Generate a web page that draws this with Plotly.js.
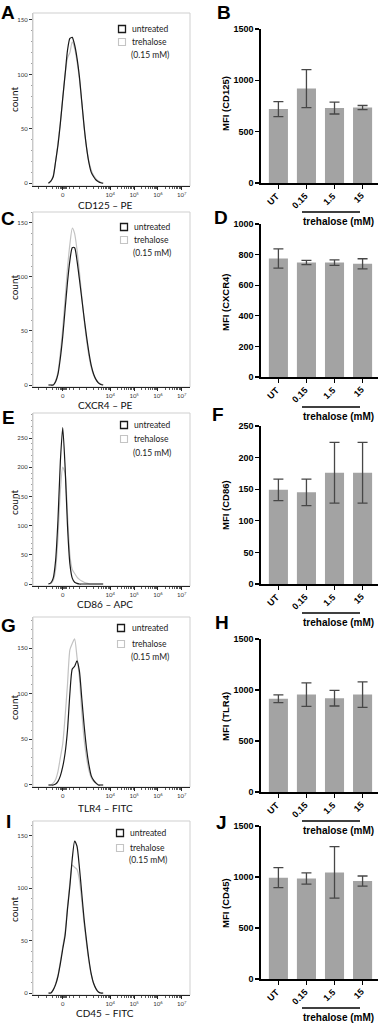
<!DOCTYPE html>
<html><head><meta charset="utf-8">
<script src="https://cdn.plot.ly/plotly-3.0.1.min.js"></script>
<style>html,body{margin:0;padding:0;background:#fff}#chart{width:384px;height:1024px}</style>
</head><body><div id="chart"></div>
<script>
// ---------- DATA ----------
// histogram bins (display position on biexponential axis: 0 -> 2, 10^k -> k)
const histBins = [1.4,1.5,1.6,1.7,1.8,1.9,2.0,2.1,2.2,2.3,2.4,2.5,2.6,2.7,2.8,2.9,3.0,3.1,3.2,3.3,3.4,3.5,3.6,3.7];
const cd125Untreated = [0,2,6,20,35,55,78,100,122,133,134,127,115,98,75,52,33,19,10,6,3,1.5,0.5,0];
const cd125Trehalose = [0,2,7,20,37,56,78,100,115,120,130,124,112,96,74,51,33,20,12,7,4,2,1,0];
const cxcr4Untreated = [0,0,0,3,10,25,45,70,95,115,127,127,115,98,80,62,45,30,18,10,5,2,0.5,0];
const cxcr4Trehalose = [0,0,0,4,12,30,52,80,108,130,145,140,125,105,82,60,42,27,16,9,5,2,1,0];
const cd86Untreated  = [0,2,10,40,110,210,268,200,100,35,10,3,1,0,0,0,0,0,0,0,0,0,0,0];
const cd86Trehalose  = [0,1,6,25,80,160,200,190,120,50,25,18,12,8,5,3,1.5,0.5,0,0,0,0,0,0];
const tlr4Untreated  = [0,0,0,1,4,10,20,35,60,100,127,130,136,125,95,65,40,22,10,5,2,0,0,0];
const tlr4Trehalose  = [0,0,2,6,15,30,45,75,110,148,155,160,140,118,80,50,30,16,8,4,2,0,0,0];
const cd45Untreated  = [0,0,3,8,16,28,42,55,80,102,128,145,140,120,95,70,50,32,18,9,4,1,0,0];
const cd45Trehalose  = [0,0,3,9,17,30,44,58,82,105,122,120,118,108,88,66,47,30,17,9,4,1,0,0];

const histTickVals = [2,4,5,6,7];
const histTickText = ['0','10<sup>4</sup>','10<sup>5</sup>','10<sup>6</sup>','10<sup>7</sup>'];
const markerLabels = ['CD125 – PE','CXCR4 – PE','CD86 – APC','TLR4 – FITC','CD45 – FITC'];
const legendLabels = ['untreated','trehalose','(0.15 mM)'];

const doseCategories = ['UT','0.15','1.5','15'];
const mfiCD125 = [720,920,730,735];  const semCD125 = [73,185,58,20];
const mfiCXCR4 = [775,748,748,740];  const semCXCR4 = [63,14,18,33];
const mfiCD86  = [149,145,176,176];  const semCD86  = [17,21,48,48];
const mfiTLR4  = [915,955,920,955];  const semTLR4  = [38,115,77,125];
const mfiCD45  = [993,985,1045,960]; const semCD45  = [98,55,252,50];
const mfiTitles = ['MFI (CD125)','MFI (CXCR4)','MFI (CD86)','MFI (TLR4)','MFI (CD45)'];
const doseLabel = 'trehalose (mM)';
const panelLetters = ['A','B','C','D','E','F','G','H','I','J'];

// ---------- LAYOUT HELPERS ----------
const W = 384, H = 1024;
const px = x => x / W;
const py = y => 1 - y / H;

const histGeom = [
  {top:13,  bottom:186, yr:[-2.5,156.4], ymax:150, labelY:205,  countY:100, legY:[29,42,55],    sqX:122, txX:130, letY:12},
  {top:212, bottom:387, yr:[-1.85,160],  ymax:150, labelY:405,  countY:288, legY:[227,240,253], sqX:124, txX:132, letY:218},
  {top:413, bottom:586, yr:[-3.4,292.8], ymax:250, labelY:604,  countY:503, legY:[425,439,453], sqX:124, txX:132, letY:417},
  {top:617, bottom:787, yr:[-2.2,184],   ymax:150, labelY:808,  countY:708, legY:[628,644,657], sqX:121, txX:130, letY:625},
  {top:821, bottom:995, yr:[-1.9,164.1], ymax:150, labelY:1013, countY:910, legY:[833,848,860], sqX:120, txX:128, letY:821}
];
const barGeom = [
  {zero:183, topv:29,  ymax:1500, dtick:500, lineY:212,  textY:221,  titleY:104, letX:224, letY:12},
  {zero:377, topv:224, ymax:1000, dtick:200, lineY:407,  textY:416,  titleY:302, letX:221, letY:217},
  {zero:584, topv:426, ymax:250,  dtick:50,  lineY:613,  textY:622,  titleY:505, letX:218, letY:414},
  {zero:792, topv:639, ymax:1500, dtick:500, lineY:821,  textY:830,  titleY:717, letX:222, letY:622},
  {zero:979, topv:826, ymax:1500, dtick:500, lineY:1008, textY:1017, titleY:903, letX:221, letY:822}
];
const histSeries = [
  [cd125Untreated, cd125Trehalose],
  [cxcr4Untreated, cxcr4Trehalose],
  [cd86Untreated, cd86Trehalose],
  [tlr4Untreated, tlr4Trehalose],
  [cd45Untreated, cd45Trehalose]
];
const barSeries = [
  [mfiCD125, semCD125],[mfiCXCR4, semCXCR4],[mfiCD86, semCD86],[mfiTLR4, semTLR4],[mfiCD45, semCD45]
];

// minor tick positions on the biexponential axis (styling only)
const minorX = [1.0,1.3,1.55,1.72,1.84,1.9,1.94,1.97,2.03,2.06,2.1,2.16,2.28,2.45,2.7,3.0,3.3,3.5,3.62,3.72,3.8,3.86,3.91,3.96];
for (let d = 4; d <= 6; d++) for (let k = 2; k <= 9; k++) minorX.push(d + Math.log10(k));

const traces = [];
const layout = {
  width: W, height: H, margin: {l:0,r:0,t:0,b:0},
  paper_bgcolor: '#fff', plot_bgcolor: 'rgba(0,0,0,0)',
  showlegend: false, shapes: [], annotations: []
};
const histFont = 'Lato, "Liberation Sans", sans-serif';
const barFont = '"Liberation Sans", Arial, sans-serif';

for (let i = 0; i < 5; i++) {
  const hi = 2*i + 1, bi = 2*i + 2;
  const g = histGeom[i], b = barGeom[i];
  const hx = 'x' + hi, hy = 'y' + hi, bx = 'x' + bi, by = 'y' + bi;

  // histogram traces: trehalose (grey) under untreated (black)
  traces.push({type:'scatter', mode:'lines', x: histBins, y: histSeries[i][1], xaxis: hx, yaxis: hy,
    line:{color:'#c2c2c2', width:1.2, shape:'spline', smoothing:0.6}, hoverinfo:'skip'});
  traces.push({type:'scatter', mode:'lines', x: histBins, y: histSeries[i][0], xaxis: hx, yaxis: hy,
    line:{color:'#1a1a1a', width:1.2, shape:'spline', smoothing:0.6}, hoverinfo:'skip'});

  layout['xaxis' + hi] = {
    domain:[px(33), px(190)], anchor: hy, range:[0.75, 7.35], showgrid:false, zeroline:false,
    showline:true, linecolor:'#222', linewidth:1, ticks:'outside', ticklen:3, tickcolor:'#222', tickwidth:1,
    tickmode:'array', tickvals: histTickVals, ticktext: histTickText,
    tickfont:{family: histFont, size:6, color:'#333'},
    minor:{tickmode:'array', tickvals: minorX, ticks:'outside', ticklen:2, tickcolor:'#333', tickwidth:0.8}
  };
  const yt = []; for (let v = 0; v <= g.ymax; v += 50) yt.push(v);
  layout['yaxis' + hi] = {
    domain:[py(g.bottom), py(g.top)], anchor: hx, range: g.yr, showgrid:false, zeroline:false,
    showline:true, linecolor:'#c8c8c8', linewidth:1, ticks:'outside', ticklen:3, tickcolor:'#333', tickwidth:1,
    tickmode:'array', tickvals: yt, tickfont:{family: histFont, size:6, color:'#333'},
    minor:{dtick:10, ticks:'outside', ticklen:1.5, tickcolor:'#888', tickwidth:0.8}
  };
  // frame
  layout.shapes.push({type:'rect', xref:'paper', yref:'paper', x0:px(33), x1:px(190), y0:py(g.bottom), y1:py(g.top),
    line:{color:'#cfcfcf', width:1}, layer:'below'});
  // legend squares
  layout.shapes.push({type:'rect', xref:'paper', yref:'paper', x0:px(g.sqX-3.5), x1:px(g.sqX+3.5),
    y0:py(g.legY[0]+3.5), y1:py(g.legY[0]-3.5), line:{color:'#1a1a1a', width:1.3}, fillcolor:'#fff'});
  layout.shapes.push({type:'rect', xref:'paper', yref:'paper', x0:px(g.sqX-3.5), x1:px(g.sqX+3.5),
    y0:py(g.legY[1]+3.5), y1:py(g.legY[1]-3.5), line:{color:'#c4c4c4', width:1.1}, fillcolor:'#fff'});
  const ann = (text, x, y, opts) => layout.annotations.push(Object.assign({text, x:px(x), y:py(y), xref:'paper', yref:'paper',
    showarrow:false}, opts));
  ann(legendLabels[0], g.txX, g.legY[0], {xanchor:'left', yanchor:'middle', font:{family:histFont, size:8.5, color:'#222'}});
  ann(legendLabels[1], g.txX, g.legY[1], {xanchor:'left', yanchor:'middle', font:{family:histFont, size:8.5, color:'#222'}});
  ann(legendLabels[2], g.txX - 1, g.legY[2], {xanchor:'left', yanchor:'middle', font:{family:histFont, size:8.5, color:'#222'}});
  ann(markerLabels[i], 105, g.labelY, {xanchor:'center', yanchor:'middle', font:{family:histFont, size:10, color:'#111'}});
  ann('count', 14, g.countY, {xanchor:'center', yanchor:'middle', textangle:-90, font:{family:histFont, size:10, color:'#111'}});
  ann('<b>' + panelLetters[2*i] + '</b>', 8, g.letY, {xanchor:'center', yanchor:'middle', font:{family:barFont, size:19, color:'#000'}});

  // bar chart
  traces.push({type:'bar', x: doseCategories, y: barSeries[i][0], xaxis: bx, yaxis: by, width:0.68,
    marker:{color:'#a3a3a3', line:{width:0}},
    error_y:{type:'data', array: barSeries[i][1], visible:true, color:'#474747', thickness:1.3, width:5},
    hoverinfo:'skip'});
  layout['xaxis' + bi] = {
    domain:[px(261), px(378)], anchor: by, type:'category', range:[-0.62, 3.55], showgrid:false, zeroline:false,
    showline:true, linecolor:'#000', linewidth:1.6, ticks:'outside', ticklen:4, tickwidth:1.4, tickcolor:'#000',
    showticklabels:false
  };
  layout['yaxis' + bi] = {
    domain:[py(b.zero), py(b.topv)], anchor: bx, range:[0, b.ymax], showgrid:false, zeroline:false,
    showline:true, linecolor:'#000', linewidth:1.6, ticks:'outside', ticklen:4, tickwidth:1.4, tickcolor:'#000',
    tickmode:'linear', tick0:0, dtick: b.dtick, tickfont:{family: barFont, size:9, color:'#000', weight:700}
  };
  // rotated category labels (45°), placed at each category index on the category axis
  doseCategories.forEach((c, j) => {
    layout.annotations.push({text:'<b>' + c + '</b>', xref: bx, x: j, yref:'paper', y: py(b.zero + 5),
      xshift: 6, xanchor:'right', yanchor:'top', textangle:-45, showarrow:false,
      font:{family:barFont, size:9, color:'#000'}});
  });
  layout.shapes.push({type:'line', xref:'paper', yref:'paper', x0:px(302), x1:px(360), y0:py(b.lineY), y1:py(b.lineY),
    line:{color:'#000', width:1.5}});
  ann('<b>' + doseLabel + '</b>', 338, b.textY, {xanchor:'center', yanchor:'middle', font:{family:barFont, size:10, color:'#000'}});
  ann('<b>' + mfiTitles[i] + '</b>', 225, b.titleY, {xanchor:'center', yanchor:'middle', textangle:-90, font:{family:barFont, size:9.5, color:'#000'}});
  ann('<b>' + panelLetters[2*i+1] + '</b>', b.letX, b.letY, {xanchor:'center', yanchor:'middle', font:{family:barFont, size:19, color:'#000'}});
}

Plotly.newPlot('chart', traces, layout, {staticPlot:true, displayModeBar:false});
</script>
</body></html>
